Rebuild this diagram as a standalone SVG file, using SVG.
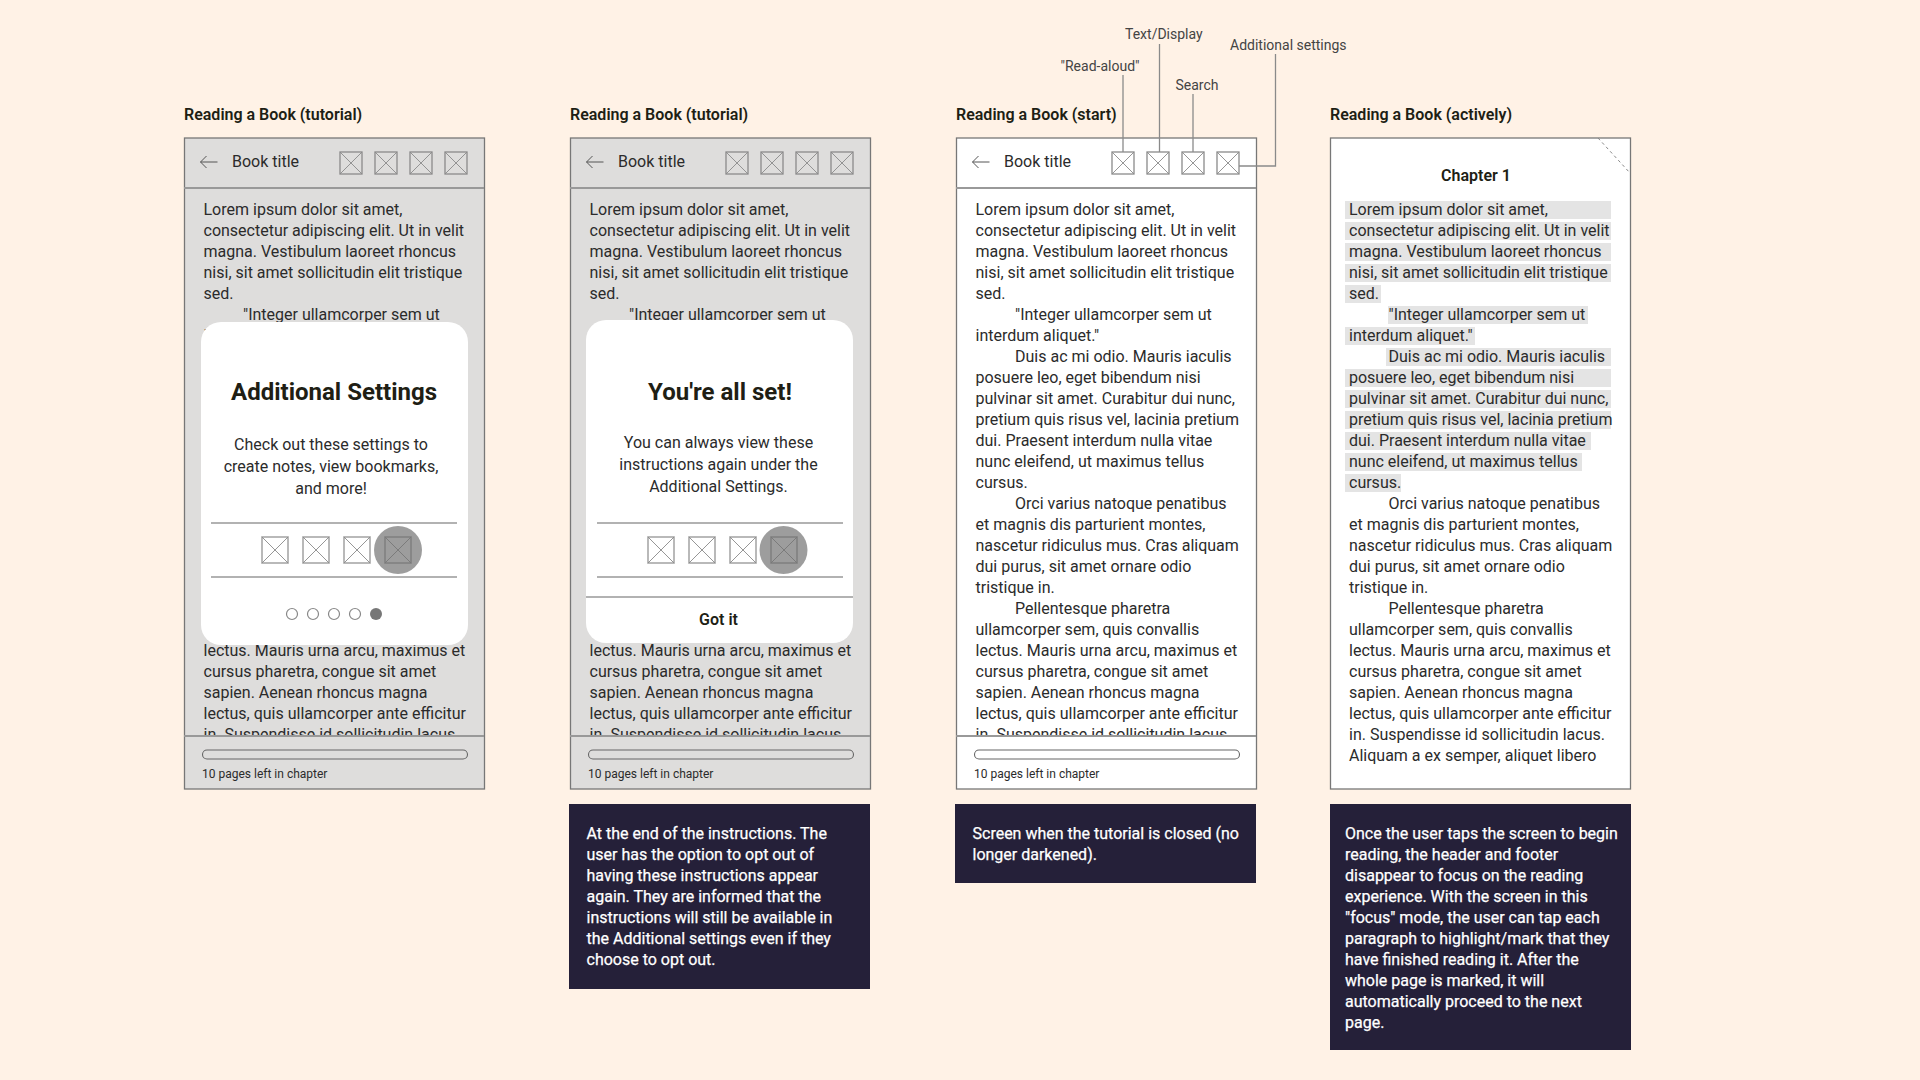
<svg xmlns="http://www.w3.org/2000/svg" width="1920" height="1080" viewBox="0 0 1920 1080">
<style>
text{font-family:Roboto,"Liberation Sans",sans-serif;fill:#2b2b2b}
.b{font-size:16px}
.t{font-size:16px;font-weight:600;fill:#201e14}
.h{font-size:24px;font-weight:700;fill:#201e14;text-anchor:middle}
.c{font-size:16px;text-anchor:middle}
.cb{font-weight:600;fill:#201e14}
.s{font-size:12px}
.a{font-size:14px;fill:#444}
.n{font-size:16px;fill:#fff;stroke:#fff;stroke-width:.25}
.frame{stroke:#777;stroke-width:1.3}
.rule{stroke:#999;stroke-width:2;fill:none}
.bar{fill:none;stroke:#666;stroke-width:1.1}
.sep{stroke:#666;stroke-width:1.1}
.note{fill:#252039}
.hl{fill:#e4e4e4}
.dot{fill:#fff;stroke:#888;stroke-width:1.2}
.ic rect{fill:none;stroke:#8a8a8a;stroke-width:1.3}
.ic path{fill:none;stroke:#8a8a8a;stroke-width:.9}
.lead{stroke:#8a8a8a;stroke-width:1.3;fill:none}
.arrow{fill:none;stroke:#555;stroke-width:1}
</style>
<defs>
<clipPath id="body"><rect x="0" y="189" width="300" height="547"/></clipPath>
<g id="i22" class="ic"><rect width="22" height="22"/><path d="M0 0L22 22M22 0L0 22"/></g>
<g id="i26" class="ic"><rect width="26" height="26" style="stroke:#a8a8a8;stroke-width:1.6"/><path d="M0 0L26 26M26 0L0 26"/></g>
</defs>
<rect width="1920" height="1080" fill="#fff2e6"/>

<g id="panel-1" transform="translate(184 0)">
<text class="t" x="0" y="120">Reading a Book (tutorial)</text>
<rect class="frame" x="0.500" y="138" width="300" height="651" fill="#dedddc"/>
<g clip-path="url(#body)">
<text class="b" x="19.500" y="215">Lorem ipsum dolor sit amet,</text>
<text class="b" x="19.500" y="236">consectetur adipiscing elit. Ut in velit</text>
<text class="b" x="19.500" y="257">magna. Vestibulum laoreet rhoncus</text>
<text class="b" x="19.500" y="278">nisi, sit amet sollicitudin elit tristique</text>
<text class="b" x="19.500" y="299">sed.</text>
<text class="b" x="59" y="320">"Integer ullamcorper sem ut</text>
<text class="b" x="19.500" y="341">interdum aliquet."</text>
<text class="b" x="19.500" y="656">lectus. Mauris urna arcu, maximus et</text>
<text class="b" x="19.500" y="677">cursus pharetra, congue sit amet</text>
<text class="b" x="19.500" y="698">sapien. Aenean rhoncus magna</text>
<text class="b" x="19.500" y="719">lectus, quis ullamcorper ante efficitur</text>
<text class="b" x="19.500" y="740">in. Suspendisse id sollicitudin lacus.</text>
</g>
<path class="rule" d="M0 188H300M0 736H300"/>
<path class="arrow" d="M33.500 162H16.500M22.500 156L16.500 162L22.500 168"/>
<text class="b" x="48" y="167">Book title</text>
<use href="#i22" x="156" y="152"/><use href="#i22" x="191" y="152"/><use href="#i22" x="226" y="152"/><use href="#i22" x="261" y="152"/>
<rect class="bar" x="18.500" y="750" width="265" height="9" rx="4.500"/>
<text class="s" x="18" y="778">10 pages left in chapter</text>
<rect x="17" y="322" width="267" height="323" rx="20" fill="#fff"/>
<text class="h" x="150" y="400">Additional Settings</text>
<text class="c" x="147" y="450">Check out these settings to</text>
<text class="c" x="147" y="472">create notes, view bookmarks,</text>
<text class="c" x="147" y="494">and more!</text>
<path class="sep" d="M27 523H273M27 577H273"/>
<use href="#i26" x="78" y="537"/><use href="#i26" x="119" y="537"/><use href="#i26" x="160" y="537"/><use href="#i26" x="201" y="537"/>
<circle cx="214" cy="550" r="24" fill="#6e6e6e" fill-opacity=".68"/>
<circle class="dot" cx="108" cy="614" r="5.500"/><circle class="dot" cx="129" cy="614" r="5.500"/><circle class="dot" cx="150" cy="614" r="5.500"/><circle class="dot" cx="171" cy="614" r="5.500"/><circle cx="192" cy="614" r="6" fill="#777"/>
</g>

<g id="panel-2" transform="translate(570 0)">
<text class="t" x="0" y="120">Reading a Book (tutorial)</text>
<rect class="frame" x="0.500" y="138" width="300" height="651" fill="#dedddc"/>
<g clip-path="url(#body)">
<text class="b" x="19.500" y="215">Lorem ipsum dolor sit amet,</text>
<text class="b" x="19.500" y="236">consectetur adipiscing elit. Ut in velit</text>
<text class="b" x="19.500" y="257">magna. Vestibulum laoreet rhoncus</text>
<text class="b" x="19.500" y="278">nisi, sit amet sollicitudin elit tristique</text>
<text class="b" x="19.500" y="299">sed.</text>
<text class="b" x="59" y="320">"Integer ullamcorper sem ut</text>
<text class="b" x="19.500" y="656">lectus. Mauris urna arcu, maximus et</text>
<text class="b" x="19.500" y="677">cursus pharetra, congue sit amet</text>
<text class="b" x="19.500" y="698">sapien. Aenean rhoncus magna</text>
<text class="b" x="19.500" y="719">lectus, quis ullamcorper ante efficitur</text>
<text class="b" x="19.500" y="740">in. Suspendisse id sollicitudin lacus.</text>
</g>
<path class="rule" d="M0 188H300M0 736H300"/>
<path class="arrow" d="M33.500 162H16.500M22.500 156L16.500 162L22.500 168"/>
<text class="b" x="48" y="167">Book title</text>
<use href="#i22" x="156" y="152"/><use href="#i22" x="191" y="152"/><use href="#i22" x="226" y="152"/><use href="#i22" x="261" y="152"/>
<rect class="bar" x="18.500" y="750" width="265" height="9" rx="4.500"/>
<text class="s" x="18" y="778">10 pages left in chapter</text>
<rect x="16" y="320" width="267" height="323" rx="20" fill="#fff"/>
<text class="h" x="150" y="400">You're all set!</text>
<text class="c" x="148.500" y="448">You can always view these</text>
<text class="c" x="148.500" y="470">instructions again under the</text>
<text class="c" x="148.500" y="492">Additional Settings.</text>
<path class="sep" d="M27 523H273M27 577H273M16 597H283"/>
<use href="#i26" x="78" y="537"/><use href="#i26" x="119" y="537"/><use href="#i26" x="160" y="537"/><use href="#i26" x="201" y="537"/>
<circle cx="213.500" cy="550" r="24" fill="#6e6e6e" fill-opacity=".68"/>
<text class="c cb" x="148.500" y="625">Got it</text>
</g>

<g id="panel-3" transform="translate(956 0)">
<text class="t" x="0" y="120">Reading a Book (start)</text>
<rect class="frame" x="0.500" y="138" width="300" height="651" fill="#fff"/>
<g clip-path="url(#body)">
<text class="b" x="19.500" y="215">Lorem ipsum dolor sit amet,</text>
<text class="b" x="19.500" y="236">consectetur adipiscing elit. Ut in velit</text>
<text class="b" x="19.500" y="257">magna. Vestibulum laoreet rhoncus</text>
<text class="b" x="19.500" y="278">nisi, sit amet sollicitudin elit tristique</text>
<text class="b" x="19.500" y="299">sed.</text>
<text class="b" x="59" y="320">"Integer ullamcorper sem ut</text>
<text class="b" x="19.500" y="341">interdum aliquet."</text>
<text class="b" x="59" y="362">Duis ac mi odio. Mauris iaculis</text>
<text class="b" x="19.500" y="383">posuere leo, eget bibendum nisi</text>
<text class="b" x="19.500" y="404">pulvinar sit amet. Curabitur dui nunc,</text>
<text class="b" x="19.500" y="425">pretium quis risus vel, lacinia pretium</text>
<text class="b" x="19.500" y="446">dui. Praesent interdum nulla vitae</text>
<text class="b" x="19.500" y="467">nunc eleifend, ut maximus tellus</text>
<text class="b" x="19.500" y="488">cursus.</text>
<text class="b" x="59" y="509">Orci varius natoque penatibus</text>
<text class="b" x="19.500" y="530">et magnis dis parturient montes,</text>
<text class="b" x="19.500" y="551">nascetur ridiculus mus. Cras aliquam</text>
<text class="b" x="19.500" y="572">dui purus, sit amet ornare odio</text>
<text class="b" x="19.500" y="593">tristique in.</text>
<text class="b" x="59" y="614">Pellentesque pharetra</text>
<text class="b" x="19.500" y="635">ullamcorper sem, quis convallis</text>
<text class="b" x="19.500" y="656">lectus. Mauris urna arcu, maximus et</text>
<text class="b" x="19.500" y="677">cursus pharetra, congue sit amet</text>
<text class="b" x="19.500" y="698">sapien. Aenean rhoncus magna</text>
<text class="b" x="19.500" y="719">lectus, quis ullamcorper ante efficitur</text>
<text class="b" x="19.500" y="740">in. Suspendisse id sollicitudin lacus.</text>
</g>
<path class="rule" d="M0 188H300M0 736H300"/>
<path class="arrow" d="M33.500 162H16.500M22.500 156L16.500 162L22.500 168"/>
<text class="b" x="48" y="167">Book title</text>
<use href="#i22" x="156" y="152"/><use href="#i22" x="191" y="152"/><use href="#i22" x="226" y="152"/><use href="#i22" x="261" y="152"/>
<rect class="bar" x="18.500" y="750" width="265" height="9" rx="4.500"/>
<text class="s" x="18" y="778">10 pages left in chapter</text>
</g>

<g id="panel-4" transform="translate(1330 0)">
<text class="t" x="0" y="120">Reading a Book (actively)</text>
<rect class="frame" x="0.500" y="138" width="300" height="651" fill="#fff"/>
<path d="M268 138L300 173" stroke="#888" stroke-width="1" stroke-dasharray="3 3" fill="none"/>
<text class="c cb" x="146" y="181">Chapter 1</text>
<g id="highlights">
<rect class="hl" x="15" y="201" width="266" height="18"/>
<rect class="hl" x="15" y="222" width="266" height="18"/>
<rect class="hl" x="15" y="243" width="266" height="18"/>
<rect class="hl" x="15" y="264" width="266" height="18"/>
<rect class="hl" x="15" y="285" width="36" height="18"/>
<rect class="hl" x="58" y="306" width="200" height="18"/>
<rect class="hl" x="15" y="327" width="130" height="18"/>
<rect class="hl" x="56" y="348" width="225" height="18"/>
<rect class="hl" x="15" y="369" width="266" height="18"/>
<rect class="hl" x="15" y="390" width="266" height="18"/>
<rect class="hl" x="15" y="411" width="266" height="18"/>
<rect class="hl" x="15" y="432" width="246" height="18"/>
<rect class="hl" x="15" y="453" width="237" height="18"/>
<rect class="hl" x="15" y="474" width="56" height="18"/>
</g>
<text class="b" x="19" y="215">Lorem ipsum dolor sit amet,</text>
<text class="b" x="19" y="236">consectetur adipiscing elit. Ut in velit</text>
<text class="b" x="19" y="257">magna. Vestibulum laoreet rhoncus</text>
<text class="b" x="19" y="278">nisi, sit amet sollicitudin elit tristique</text>
<text class="b" x="19" y="299">sed.</text>
<text class="b" x="58.500" y="320">"Integer ullamcorper sem ut</text>
<text class="b" x="19" y="341">interdum aliquet."</text>
<text class="b" x="58.500" y="362">Duis ac mi odio. Mauris iaculis</text>
<text class="b" x="19" y="383">posuere leo, eget bibendum nisi</text>
<text class="b" x="19" y="404">pulvinar sit amet. Curabitur dui nunc,</text>
<text class="b" x="19" y="425">pretium quis risus vel, lacinia pretium</text>
<text class="b" x="19" y="446">dui. Praesent interdum nulla vitae</text>
<text class="b" x="19" y="467">nunc eleifend, ut maximus tellus</text>
<text class="b" x="19" y="488">cursus.</text>
<text class="b" x="58.500" y="509">Orci varius natoque penatibus</text>
<text class="b" x="19" y="530">et magnis dis parturient montes,</text>
<text class="b" x="19" y="551">nascetur ridiculus mus. Cras aliquam</text>
<text class="b" x="19" y="572">dui purus, sit amet ornare odio</text>
<text class="b" x="19" y="593">tristique in.</text>
<text class="b" x="58.500" y="614">Pellentesque pharetra</text>
<text class="b" x="19" y="635">ullamcorper sem, quis convallis</text>
<text class="b" x="19" y="656">lectus. Mauris urna arcu, maximus et</text>
<text class="b" x="19" y="677">cursus pharetra, congue sit amet</text>
<text class="b" x="19" y="698">sapien. Aenean rhoncus magna</text>
<text class="b" x="19" y="719">lectus, quis ullamcorper ante efficitur</text>
<text class="b" x="19" y="740">in. Suspendisse id sollicitudin lacus.</text>
<text class="b" x="19" y="761">Aliquam a ex semper, aliquet libero</text>
</g>

<g id="note-2">
<rect class="note" x="569" y="804" width="301" height="185"/>
<text class="n" x="586.500" y="839">At the end of the instructions. The</text>
<text class="n" x="586.500" y="860">user has the option to opt out of</text>
<text class="n" x="586.500" y="881">having these instructions appear</text>
<text class="n" x="586.500" y="902">again. They are informed that the</text>
<text class="n" x="586.500" y="923">instructions will still be available in</text>
<text class="n" x="586.500" y="944">the Additional settings even if they</text>
<text class="n" x="586.500" y="965">choose to opt out.</text>
</g>
<g id="note-3">
<rect class="note" x="955" y="804" width="301" height="79"/>
<text class="n" x="972.500" y="839">Screen when the tutorial is closed (no</text>
<text class="n" x="972.500" y="860">longer darkened).</text>
</g>
<g id="note-4">
<rect class="note" x="1330" y="804" width="301" height="246"/>
<text class="n" x="1345" y="839">Once the user taps the screen to begin</text>
<text class="n" x="1345" y="860">reading, the header and footer</text>
<text class="n" x="1345" y="881">disappear to focus on the reading</text>
<text class="n" x="1345" y="902">experience. With the screen in this</text>
<text class="n" x="1345" y="923">"focus" mode, the user can tap each</text>
<text class="n" x="1345" y="944">paragraph to highlight/mark that they</text>
<text class="n" x="1345" y="965">have finished reading it. After the</text>
<text class="n" x="1345" y="986">whole page is marked, it will</text>
<text class="n" x="1345" y="1007">automatically proceed to the next</text>
<text class="n" x="1345" y="1028">page.</text>
</g>

<g id="label-read-aloud"><text class="a" x="1060.500" y="71">"Read-aloud"</text></g>
<g id="label-text-display"><text class="a" x="1125" y="39">Text/Display</text></g>
<g id="label-search"><text class="a" x="1175.500" y="90">Search</text></g>
<g id="label-additional"><text class="a" x="1230" y="50">Additional settings</text></g>
<g id="connectors">
<path class="lead" d="M1123 75V152"/>
<path class="lead" d="M1159.500 44V152"/>
<path class="lead" d="M1193 94V152"/>
<path class="lead" d="M1275.500 54V166H1239"/>
</g>
</svg>
